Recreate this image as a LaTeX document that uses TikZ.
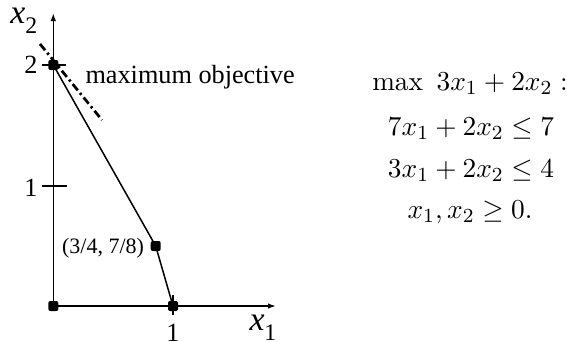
\documentclass[tikz,border=0pt]{standalone}
\usepackage{fontspec}
\newfontfamily\tms{Liberation Serif}
\usetikzlibrary{arrows.meta}
\begin{document}
\begin{tikzpicture}[x=0.4pt,y=-0.4pt,
  axis/.style={line width=0.6pt,-{Latex[length=3.2pt,width=2.2pt]}},
  edge/.style={line width=0.6pt},
  tick/.style={line width=0.5pt},
  vtx/.style={rectangle,fill=black,inner sep=0pt,minimum size=4pt,rounded corners=0.8pt},
  objline/.style={line width=1.1pt,dash pattern=on 3.2pt off 1.4pt on 0.9pt off 1.4pt},
  lbl/.style={font=\tms\fontsize{10.5}{12}\selectfont,inner sep=0pt},
  small/.style={font=\tms\fontsize{8.8}{10}\selectfont,inner sep=0pt},
  eq/.style={font=\fontsize{10.9}{12}\selectfont,inner sep=0pt,anchor=base}]
\useasboundingbox (0,0) rectangle (567,341);
% axes
\coordinate (O) at (53.3,306);
\coordinate (xend) at (276,306);
\coordinate (yend) at (53.3,13);
\draw[axis] (O) -- (xend);
\draw[axis] (O) -- (yend);
% ticks
\coordinate (t2a) at (42,65); \coordinate (t2b) at (66,65);
\coordinate (t1a) at (42,186); \coordinate (t1b) at (67,186);
\coordinate (tx1a) at (173,295); \coordinate (tx1b) at (173,315);
\draw[tick] (t2a) -- (t2b);
\draw[tick] (t1a) -- (t1b);
\draw[tick] (tx1a) -- (tx1b);
% vertices
\node[vtx] (o) at (O) {};
\node[vtx] (a) at (53.3,65) {};
\node[vtx] (b) at (155.7,246) {};
\node[vtx] (c) at (173,306) {};
\draw[edge] (a.center) -- (b.center) -- (c.center);
% objective line
\coordinate (d1) at (40,44);
\coordinate (d2) at (102,120);
\draw[objline] (d1) -- (d2);
% labels
\node[lbl,anchor=center] (l2) at (31,65) {2};
\node[lbl,anchor=center] (l1) at (31,188) {1};
\node[lbl,anchor=north] (lx1) at (173,324) {1};
\node[inner sep=0pt,anchor=base west,font=\tms] (x2) at (10,23)
  {\fontsize{13.5}{14}\selectfont\itshape x\raisebox{-4pt}{\upshape\fontsize{9.5}{10}\selectfont 2}};
\node[inner sep=0pt,anchor=base west,font=\tms] (x1) at (249,330)
  {\fontsize{13.5}{14}\selectfont\itshape x\raisebox{-4pt}{\upshape\fontsize{9.5}{10}\selectfont 1}};
\node[lbl,anchor=base west] (mo) at (85,83) {maximum objective};
\node[small,anchor=center] (pt) at (103,248) {(3/4, 7/8)};
% LP
\node[eq] (e1) at (470,90) {$\max\ 3x_1+2x_2:$};
\node[eq] (e2) at (471,135) {$7x_1+2x_2\le 7$};
\node[eq] (e3) at (471,177) {$3x_1+2x_2\le 4$};
\node[eq] (e4) at (470,218) {$x_1,x_2\ge 0.$};
\end{tikzpicture}
\end{document}
